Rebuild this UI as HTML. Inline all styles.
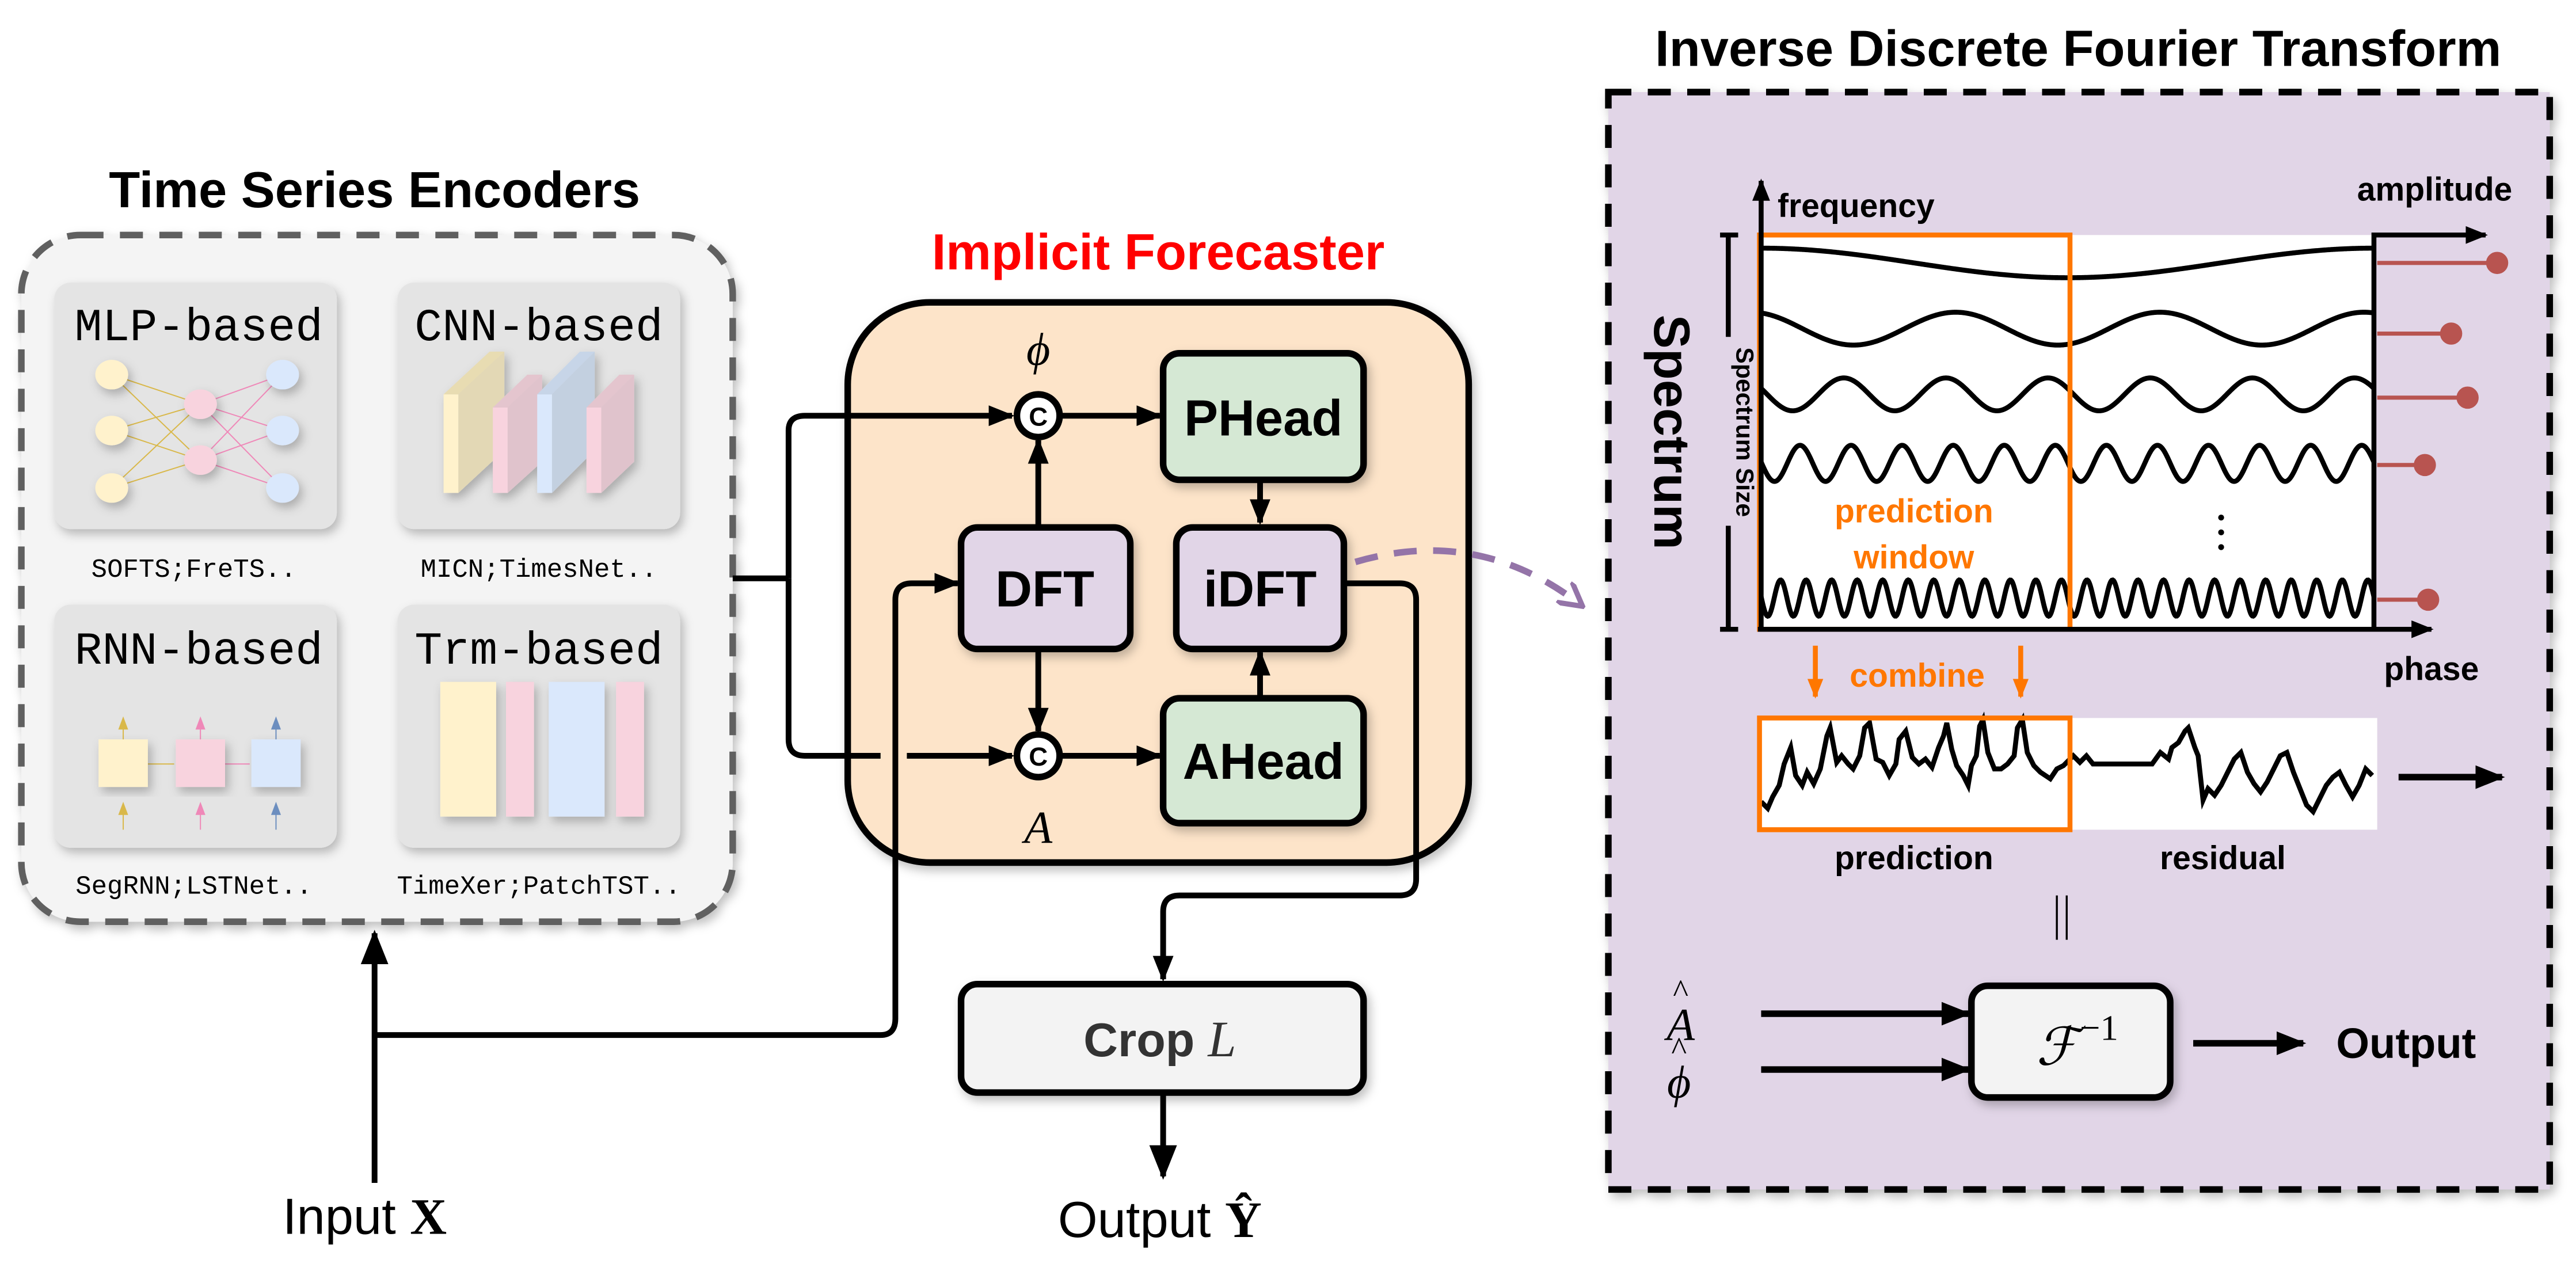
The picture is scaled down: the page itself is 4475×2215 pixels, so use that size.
<!DOCTYPE html>
<html><head><meta charset="utf-8"><style>
html,body{margin:0;padding:0;background:#fff;}
svg{display:block;}
text{font-family:"Liberation Sans",sans-serif;}
.mono{font-family:"Liberation Mono",monospace;}
.b{font-weight:bold;}
.serif{font-family:"Liberation Serif",serif;}
</style></head><body>
<svg id="s" width="4475" height="2215" viewBox="0 0 1568 776" xmlns="http://www.w3.org/2000/svg">
<defs>
<marker id="ah" viewBox="0 0 10 10" refX="9" refY="5" markerWidth="4.5" markerHeight="4.5" orient="auto" markerUnits="strokeWidth"><path d="M0,1 L10,5 L0,9 z" fill="#000"/></marker>
<marker id="ahl" viewBox="0 0 10 10" refX="9" refY="5" markerWidth="6" markerHeight="6" orient="auto" markerUnits="strokeWidth"><path d="M0,1 L10,5 L0,9 z" fill="#000"/></marker>
<marker id="ao" viewBox="0 0 10 10" refX="9" refY="5" markerWidth="4" markerHeight="4" orient="auto" markerUnits="strokeWidth"><path d="M0,1 L10,5 L0,9 z" fill="#ff7700"/></marker>
<marker id="ap" viewBox="0 0 10 10" refX="8" refY="5" markerWidth="4" markerHeight="4" orient="auto" markerUnits="strokeWidth"><path d="M0,0 L9,5 L0,10" fill="none" stroke="#9474a8" stroke-width="2"/></marker>
<filter id="sh" x="-10%" y="-10%" width="130%" height="130%"><feDropShadow dx="2" dy="3" stdDeviation="3" flood-opacity="0.25"/></filter>
</defs>

<!-- Left encoders -->
<text x="228" y="126" font-size="31" class="b" text-anchor="middle">Time Series Encoders</text>
<rect x="13" y="143" width="433" height="418" rx="36" fill="#f4f4f4" stroke="#606060" stroke-width="4" stroke-dasharray="14 10" filter="url(#sh)"/>
<g filter="url(#sh)">
<rect x="33" y="172" width="172" height="150" rx="10" fill="#e4e4e4"/>
<rect x="242" y="172" width="172" height="150" rx="10" fill="#e4e4e4"/>
<rect x="33" y="368" width="172" height="148" rx="10" fill="#e4e4e4"/>
<rect x="242" y="368" width="172" height="148" rx="10" fill="#e4e4e4"/>
</g>
<g font-size="28" text-anchor="middle">
<text x="121" y="207" class="mono">MLP-based</text>
<text x="328" y="207" class="mono">CNN-based</text>
<text x="121" y="404" class="mono">RNN-based</text>
<text x="328" y="404" class="mono">Trm-based</text>
</g>
<g font-size="16" text-anchor="middle">
<text x="118" y="351" class="mono">SOFTS;FreTS..</text>
<text x="328" y="351" class="mono">MICN;TimesNet..</text>
<text x="118" y="544" class="mono">SegRNN;LSTNet..</text>
<text x="328" y="544" class="mono">TimeXer;PatchTST..</text>
</g>
<!-- MLP icon -->
<g stroke="#d9b84a" stroke-width="0.7">
<line x1="68" y1="228" x2="122" y2="246"/><line x1="68" y1="228" x2="122" y2="280"/>
<line x1="68" y1="262" x2="122" y2="246"/><line x1="68" y1="262" x2="122" y2="280"/>
<line x1="68" y1="297" x2="122" y2="246"/><line x1="68" y1="297" x2="122" y2="280"/>
</g>
<g stroke="#ef88b8" stroke-width="0.7">
<line x1="122" y1="246" x2="172" y2="228"/><line x1="122" y1="246" x2="172" y2="262"/><line x1="122" y1="246" x2="172" y2="297"/>
<line x1="122" y1="280" x2="172" y2="228"/><line x1="122" y1="280" x2="172" y2="262"/><line x1="122" y1="280" x2="172" y2="297"/>
</g>
<g filter="url(#sh)">
<ellipse cx="68" cy="228" rx="10" ry="9" fill="#fff2cc"/><ellipse cx="68" cy="262" rx="10" ry="9" fill="#fff2cc"/><ellipse cx="68" cy="297" rx="10" ry="9" fill="#fff2cc"/>
<ellipse cx="122" cy="246" rx="10" ry="9" fill="#f8d3de"/><ellipse cx="122" cy="280" rx="10" ry="9" fill="#f8d3de"/>
<ellipse cx="172" cy="228" rx="10" ry="9" fill="#dae8fc"/><ellipse cx="172" cy="262" rx="10" ry="9" fill="#dae8fc"/><ellipse cx="172" cy="297" rx="10" ry="9" fill="#dae8fc"/>
</g>
<!-- CNN icon -->
<g filter="url(#sh)">
<polygon points="279,240 307,214 307,274 279,300" fill="#e3d8b5"/><rect x="270" y="240" width="9" height="60" fill="#fff2cc"/><polygon points="270,240 298,214 307,214 279,240" fill="#e8dcb2"/>
<polygon points="309,248 330,228 330,281 309,300" fill="#e0c3cc"/><rect x="300" y="248" width="9" height="52" fill="#f8d3de"/><polygon points="300,248 321,228 330,228 309,248" fill="#e4c5ce"/>
<polygon points="336,240 362,214 362,274 336,300" fill="#c3d0e0"/><rect x="327" y="240" width="9" height="60" fill="#dae8fc"/><polygon points="327,240 353,214 362,214 336,240" fill="#c7d5e8"/>
<polygon points="366,248 386,228 386,281 366,300" fill="#e0c3cc"/><rect x="357" y="248" width="9" height="52" fill="#f8d3de"/><polygon points="357,248 377,228 386,228 366,248" fill="#e4c5ce"/>
</g>
<!-- RNN icon -->
<g stroke-width="0.7">
<line x1="75" y1="440" x2="75" y2="478" stroke="#d9b84a"/><line x1="75" y1="491" x2="75" y2="505" stroke="#d9b84a"/>
<line x1="122" y1="440" x2="122" y2="478" stroke="#ef88b8"/><line x1="122" y1="491" x2="122" y2="505" stroke="#ef88b8"/>
<line x1="168" y1="440" x2="168" y2="478" stroke="#6c8ebf"/><line x1="168" y1="491" x2="168" y2="505" stroke="#6c8ebf"/>
<line x1="90" y1="465" x2="106" y2="465" stroke="#d9b84a"/><line x1="137" y1="465" x2="152" y2="465" stroke="#ef88b8"/>
</g>
<g fill="#d9b84a"><path d="M72,444 L75,436 L78,444z"/><path d="M72,496 L75,488 L78,496z"/></g>
<g fill="#ef88b8"><path d="M119,444 L122,436 L125,444z"/><path d="M119,496 L122,488 L125,496z"/></g>
<g fill="#6c8ebf"><path d="M165,444 L168,436 L171,444z"/><path d="M165,496 L168,488 L171,496z"/></g>
<g filter="url(#sh)">
<rect x="60" y="450" width="30" height="29" fill="#fff2cc"/>
<rect x="107" y="450" width="30" height="29" fill="#f8d3de"/>
<rect x="153" y="450" width="30" height="29" fill="#dae8fc"/>
</g>
<!-- Trm icon -->
<g filter="url(#sh)">
<rect x="268" y="415" width="34" height="82" fill="#fff2cc"/>
<rect x="308" y="415" width="17" height="82" fill="#f8d3de"/>
<rect x="334" y="415" width="34" height="82" fill="#dae8fc"/>
<rect x="375" y="415" width="17" height="82" fill="#f8d3de"/>
</g>

<!-- Implicit forecaster -->
<text x="705" y="164" font-size="31" class="b" fill="#ff0000" text-anchor="middle">Implicit Forecaster</text>
<rect x="516" y="184" width="378" height="341" rx="50" fill="#fde4c9" stroke="#000" stroke-width="4" filter="url(#sh)"/>
<g fill="none" stroke="#000" stroke-width="3.5">
<path d="M446,352 H480"/>
<path d="M480,352 V262 Q480,253 490,253 H616" marker-end="url(#ah)"/>
<path d="M480,352 V450 Q480,460 490,460 H536"/>
<path d="M552,460 H616" marker-end="url(#ah)"/>
<path d="M646,253 H706" marker-end="url(#ah)"/>
<path d="M646,460 H706" marker-end="url(#ah)"/>
<path d="M632,320 V268" marker-end="url(#ah)"/>
<path d="M632,395 V445" marker-end="url(#ah)"/>
<path d="M767,292 V318" marker-end="url(#ah)"/>
<path d="M767,425 V397" marker-end="url(#ah)"/>
<path d="M228,720 V568" marker-end="url(#ahl)"/>
<path d="M228,630 H536 Q545,630 545,620 V365 Q545,355 555,355 H583" marker-end="url(#ah)"/>
<path d="M818,355 H852 Q862,355 862,365 V535 Q862,545 852,545 H718 Q708,545 708,555 V596" marker-end="url(#ah)"/>
<path d="M708,665 V716" marker-end="url(#ahl)"/>
</g>
<g filter="url(#sh)" stroke="#000" stroke-width="4">
<rect x="708" y="215" width="122" height="77" rx="10" fill="#d5e8d4"/>
<rect x="708" y="425" width="122" height="76" rx="10" fill="#d5e8d4"/>
<rect x="585" y="321" width="103" height="74" rx="10" fill="#e1d5e7"/>
<rect x="716" y="321" width="102" height="74" rx="10" fill="#e1d5e7"/>
<rect x="585" y="599" width="245" height="66" rx="10" fill="#f3f3f3"/>
</g>
<g font-size="31" class="b" text-anchor="middle">
<text x="769" y="265">PHead</text>
<text x="769" y="474">AHead</text>
<text x="636" y="369">DFT</text>
<text x="767" y="369">iDFT</text>
</g>
<text x="706" y="643" font-size="29" class="b" fill="#333" text-anchor="middle">Crop <tspan class="serif" font-style="italic" font-weight="normal" font-size="31">L</tspan></text>
<circle cx="632" cy="253" r="13" fill="#fff" stroke="#000" stroke-width="4"/>
<circle cx="632" cy="460" r="13" fill="#fff" stroke="#000" stroke-width="4"/>
<text x="632" y="259" font-size="16" class="b" text-anchor="middle">C</text>
<text x="632" y="466" font-size="16" class="b" text-anchor="middle">C</text>
<text x="632" y="222" font-size="28" font-style="italic" text-anchor="middle" class="serif">ϕ</text>
<text x="632" y="513" font-size="28" font-style="italic" text-anchor="middle" class="serif">A</text>
<text x="222" y="751" font-size="31" text-anchor="middle">Input <tspan class="b serif">X</tspan></text>
<text x="706" y="753" font-size="31" text-anchor="middle">Output <tspan class="b serif">Ŷ</tspan></text>
<path d="M825,342 Q900,320 962,368" fill="none" stroke="#9474a8" stroke-width="4" stroke-dasharray="14 10" marker-end="url(#ap)"/>

<!-- Right panel -->
<text x="1265" y="40" font-size="31" class="b" text-anchor="middle">Inverse Discrete Fourier Transform</text>
<rect x="979" y="56" width="573" height="668" fill="#e1d5e7" stroke="#000" stroke-width="4" stroke-dasharray="14 10" filter="url(#sh)"/>
<rect x="1071" y="143" width="374" height="240" fill="#fff"/>
<g id="waves" fill="none" stroke="#000" stroke-width="3"></g>
<rect x="1071" y="143" width="189" height="240" fill="none" stroke="#ff7700" stroke-width="3"/>
<g fill="none" stroke="#000" stroke-width="3">
<path d="M1072,383 V110" marker-end="url(#ah)"/>
<path d="M1070,383 H1480" marker-end="url(#ah)"/>
<path d="M1445,383 V143 H1513" marker-end="url(#ah)"/>
<path d="M1047,143 H1058 M1052,143 V205 M1052,320 V383 M1047,383 H1058"/>
</g>
<text x="1082" y="132" font-size="20" class="b">frequency</text>
<text x="1482" y="122" font-size="20" class="b" text-anchor="middle">amplitude</text>
<text x="1480" y="414" font-size="20" class="b" text-anchor="middle">phase</text>
<text transform="translate(1057,263) rotate(90)" font-size="15" class="b" text-anchor="middle">Spectrum Size</text>
<text transform="translate(1007,263) rotate(90)" font-size="31" class="b" text-anchor="middle">Spectrum</text>
<text x="1165" y="318" font-size="20" class="b" fill="#ff7700" text-anchor="middle">prediction</text>
<text x="1165" y="346" font-size="20" class="b" fill="#ff7700" text-anchor="middle">window</text>
<g fill="#000"><circle cx="1352" cy="315" r="1.8"/><circle cx="1352" cy="324" r="1.8"/><circle cx="1352" cy="333" r="1.8"/></g>
<g stroke="#b85450" stroke-width="2.5" fill="#b85450">
<line x1="1447" y1="160" x2="1520" y2="160"/><circle cx="1520" cy="160" r="5.5"/>
<line x1="1447" y1="203" x2="1492" y2="203"/><circle cx="1492" cy="203" r="5.5"/>
<line x1="1447" y1="242" x2="1502" y2="242"/><circle cx="1502" cy="242" r="5.5"/>
<line x1="1447" y1="283" x2="1476" y2="283"/><circle cx="1476" cy="283" r="5.5"/>
<line x1="1447" y1="365" x2="1478" y2="365"/><circle cx="1478" cy="365" r="5.5"/>
</g>
<g stroke="#ff7700" stroke-width="3">
<line x1="1105" y1="393" x2="1105" y2="424" marker-end="url(#ao)"/>
<line x1="1230" y1="393" x2="1230" y2="424" marker-end="url(#ao)"/>
</g>
<text x="1167" y="418" font-size="20" class="b" fill="#ff7700" text-anchor="middle">combine</text>
<rect x="1071" y="437" width="376" height="68" fill="#fff"/>
<path id="sig" fill="none" stroke="#000" stroke-width="3" d=""/>
<rect x="1071" y="437" width="189" height="68" fill="none" stroke="#ff7700" stroke-width="3"/>
<text x="1165" y="529" font-size="20" class="b" text-anchor="middle">prediction</text>
<text x="1353" y="529" font-size="20" class="b" text-anchor="middle">residual</text>
<path d="M1460,473 H1523" stroke="#000" stroke-width="4" marker-end="url(#ah)"/>
<g stroke="#000" stroke-width="1.2"><line x1="1252" y1="545" x2="1252" y2="572"/><line x1="1258" y1="545" x2="1258" y2="572"/></g>
<rect x="1200" y="600" width="121" height="68" rx="10" fill="#f3f3f3" stroke="#000" stroke-width="4" filter="url(#sh)"/>
<text x="1252" y="648" font-size="32" font-style="italic" text-anchor="middle" class="serif">ℱ</text>
<text x="1266" y="633" font-size="22" class="serif">−1</text>
<g stroke="#000" stroke-width="4">
<path d="M1072,617 H1198" marker-end="url(#ah)"/>
<path d="M1072,651 H1198" marker-end="url(#ah)"/>
<path d="M1335,635 H1402" marker-end="url(#ah)"/>
</g>
<text x="1023" y="633" font-size="28" font-style="italic" text-anchor="middle" class="serif">A</text>
<text x="1023" y="610" font-size="20" text-anchor="middle" class="serif">^</text>
<text x="1022" y="668" font-size="28" font-style="italic" text-anchor="middle" class="serif">ϕ</text>
<text x="1022" y="645" font-size="20" text-anchor="middle" class="serif">^</text>
<text x="1422" y="644" font-size="26" class="b">Output</text>
</svg>
<script>
(function(){
var g=document.getElementById('waves');var ns='http://www.w3.org/2000/svg';
function wave(fn){var d='';for(var x=1072;x<=1445;x+=0.5){var y=fn(x-1072);d+=(d?'L':'M')+x.toFixed(1)+','+y.toFixed(2);}var p=document.createElementNS(ns,'path');p.setAttribute('d',d);g.appendChild(p);}
var W=373;
wave(function(t){return 160-9*Math.cos(2*Math.PI*t/W);});
wave(function(t){return 200-10*Math.cos(2*Math.PI*t*3/W+0.3);});
wave(function(t){return 240-10*Math.cos(2*Math.PI*t*6/W+1.2);});
wave(function(t){return 282-11*Math.cos(2*Math.PI*t*12/W+1.5);});
wave(function(t){return 364-11*Math.cos(2*Math.PI*t*24/W+1.5);});
var pts=[[1072,488],[1076,492],[1079,485],[1083,478],[1086,465],[1090,455],[1093,472],[1097,478],[1100,470],[1104,477],[1108,468],[1112,448],[1114,443],[1118,464],[1121,460],[1125,465],[1128,468],[1132,460],[1135,443],[1138,440],[1142,462],[1146,464],[1150,472],[1154,465],[1156,450],[1160,445],[1164,461],[1168,465],[1172,462],[1176,467],[1180,455],[1183,448],[1185,440],[1188,456],[1191,466],[1195,472],[1198,478],[1200,466],[1203,460],[1205,442],[1207,438],[1210,458],[1214,468],[1218,468],[1222,465],[1226,460],[1228,443],[1231,438],[1234,458],[1238,466],[1242,470],[1248,474],[1252,468],[1256,466],[1262,460],[1266,464],[1270,460],[1274,465],[1310,465],[1315,458],[1320,462],[1322,455],[1326,452],[1330,445],[1332,443],[1336,455],[1338,460],[1341,487],[1344,480],[1348,484],[1352,478],[1356,470],[1360,462],[1364,458],[1368,470],[1372,477],[1376,482],[1380,476],[1384,468],[1388,460],[1392,458],[1396,470],[1400,480],[1404,490],[1408,494],[1412,486],[1416,478],[1420,473],[1424,470],[1428,478],[1432,485],[1436,478],[1440,468],[1444,472]];
var d='';pts.forEach(function(p,i){d+=(i?'L':'M')+p[0]+','+p[1];});document.getElementById('sig').setAttribute('d',d);
})();
</script>
</body></html>
